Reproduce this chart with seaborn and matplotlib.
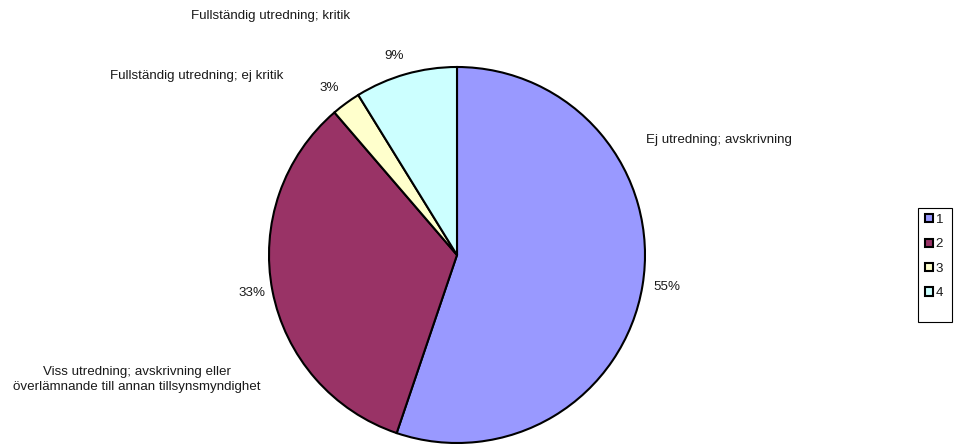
import matplotlib
matplotlib.use("Agg")
import matplotlib.pyplot as plt
from matplotlib.patches import Rectangle
import seaborn as sns

# Data (share of cases)
categories = ["1", "2", "3", "4"]
names = [
    "Ej utredning; avskrivning",
    "Viss utredning; avskrivning eller\növerlämnande till annan tillsynsmyndighet",
    "Fullständig utredning; ej kritik",
    "Fullständig utredning; kritik",
]
values = [55.2, 33.5, 2.5, 8.8]
pct_labels = ["55%", "33%", "3%", "9%"]
colors = ["#9999FF", "#993366", "#FFFFCC", "#CCFFFF"]

sns.set_theme(style="white")
plt.rcParams["font.family"] = ["Liberation Sans", "DejaVu Sans"]

W, H = 958, 446
fig = plt.figure(figsize=(W / 100, H / 100), dpi=100)
ax = fig.add_axes([0, 0, 1, 1])

wedges, _ = ax.pie(
    values, colors=colors, startangle=90, counterclock=False,
    center=(457, H - 255), radius=188, frame=True,
    wedgeprops=dict(edgecolor="black", linewidth=1.5),
)
ax.set_xlim(0, W)
ax.set_ylim(0, H)
ax.axis("off")

fs = 9.6
# label positions in pixels, y measured from the top
name_pos = [(646, 140, "left"), (137, 379.5, "center"), (197, 76, "center"), (271, 16, "center")]
pct_pos = [(653, 287, "left"), (252, 293, "center"), (329.5, 88, "center"), (394, 56, "center")]
for (x, y, ha), txt in zip(name_pos, names):
    ax.text(x, H - y, txt, ha=ha, va="center", fontsize=fs, color="#1a1a1a",
            multialignment="center", linespacing=1.4)
for (x, y, ha), txt in zip(pct_pos, pct_labels):
    ax.text(x, H - y, txt, ha=ha, va="center", fontsize=fs, color="#1a1a1a")

# legend frame drawn separately (Excel style, extra padding)
ax.add_patch(Rectangle((918.5, H - 321.5), 34, 114, fill=False,
                       edgecolor="black", linewidth=0.8, zorder=5))
leg = ax.legend(
    wedges, categories, loc="upper left",
    bbox_to_anchor=(925 / W, 1 - 214 / H), bbox_transform=fig.transFigure,
    fontsize=fs, frameon=False,
    handlelength=0.58, handleheight=0.58, handletextpad=0.22,
    labelspacing=0.93, borderpad=0, borderaxespad=0,
)
for t in leg.get_texts():
    t.set_color("#1a1a1a")

fig.savefig("out.png", dpi=100, facecolor="white")
